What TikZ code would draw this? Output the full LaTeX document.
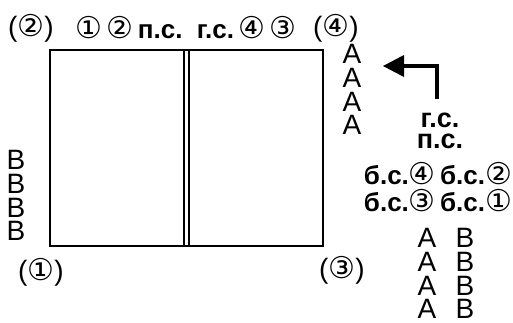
\documentclass[tikz,border=0pt]{standalone}
\usepackage{fontspec}
\setmainfont{Liberation Sans}
\newfontfamily\circfont{DejaVu Sans}
\newcommand{\ci}[1]{{\circfont\mdseries\fontsize{30}{30}\selectfont #1}}
\begin{document}
\begin{tikzpicture}[x=1pt,y=-1pt,
  lbl/.style={inner sep=0pt,font=\fontsize{28}{28}\selectfont},
  col/.style={inner sep=0pt,anchor=north,align=center,font=\fontsize{28}{23.8}\selectfont},
  bl/.style={inner sep=0pt,font=\bfseries\fontsize{26}{26}\selectfont},
  frame/.style={line width=1.6pt}]
\useasboundingbox (0,0) rectangle (513,322);
% frame
\coordinate (tl) at (50,50);
\coordinate (br) at (323,246);
\draw[frame] (tl) rectangle (br);
\coordinate (m1t) at (184,50); \coordinate (m1b) at (184,246);
\coordinate (m2t) at (189,50); \coordinate (m2b) at (189,246);
\draw[frame] (m1t) -- (m1b);
\draw[frame] (m2t) -- (m2b);
% corner labels
\node[lbl] (c2) at (31,28) {(\ci{②})};
\node[lbl] (c4) at (336,28) {(\ci{④})};
\node[lbl] (c1) at (41,272) {(\ci{①})};
\node[lbl] (c3) at (342,270) {(\ci{③})};
% top text
\node[bl] (top) at (186,28) {\ci{①}\,\ci{②}\,п.с.\ \ г.с.\,\ci{④}\,\ci{③}};
% A column
\node[col] (acol) at (352,44) {A\\A\\A\\A};
% B column
\node[col] (bcol) at (16,150) {B\\B\\B\\B};
% arrow
\coordinate (ar0) at (437,99);
\coordinate (ar1) at (437,66);
\coordinate (ar2) at (400,66);
\draw[line width=4.5pt] (ar0) -- (ar1) -- (ar2);
\fill (383,66) -- (404,55) -- (404,77) -- cycle;
% right text
\node[bl,anchor=north,align=center,font=\bfseries\fontsize{27}{21}\selectfont] (gsps) at (440,113) {г.с.\\п.с.};
\node[bl] (r1) at (438,174) {б.с.\ci{④}\,б.с.\ci{②}};
\node[bl] (r2) at (438,201) {б.с.\ci{③}\,б.с.\ci{①}};
\node[col] (aacol) at (427,228) {A\\A\\A\\A};
\node[col] (bbcol) at (465,228) {B\\B\\B\\B};
\end{tikzpicture}
\end{document}
